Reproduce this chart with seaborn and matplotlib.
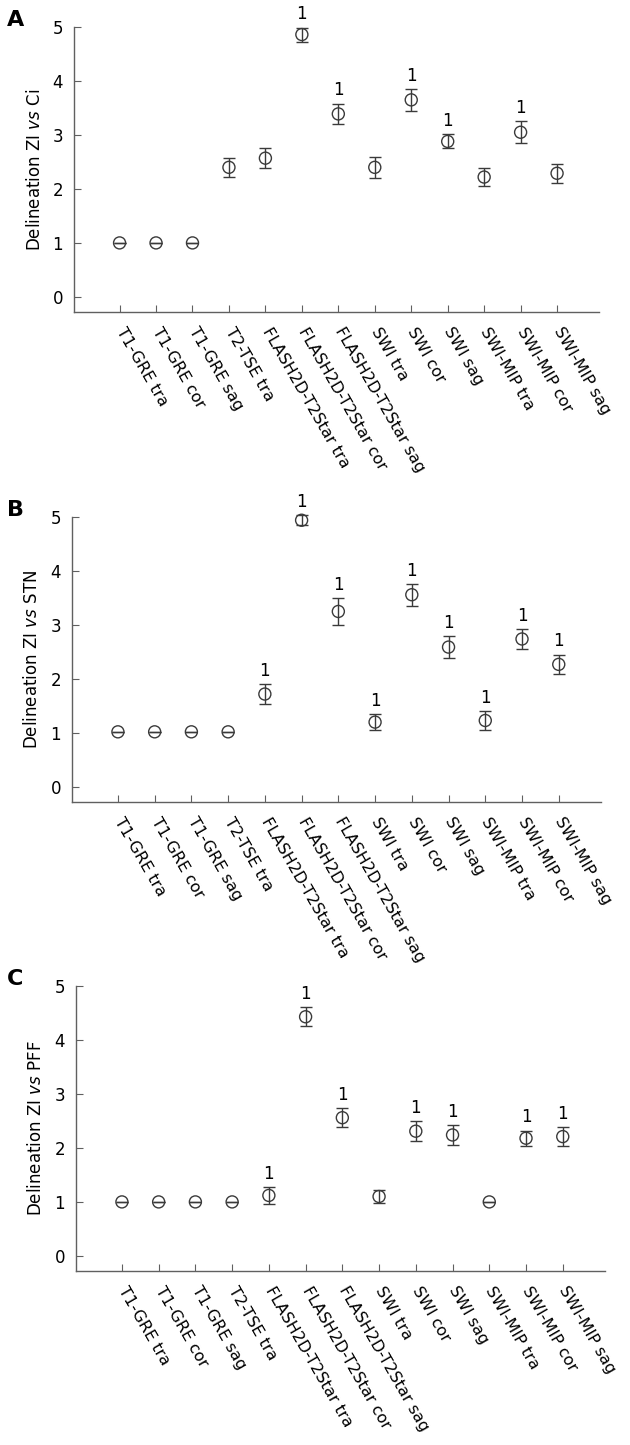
import matplotlib
matplotlib.use("Agg")
import matplotlib.pyplot as plt
import seaborn as sns
import numpy as np

# --- DATA ---
sequences = ["T1-GRE tra", "T1-GRE cor", "T1-GRE sag", "T2-TSE tra",
             "FLASH2D-T2Star tra", "FLASH2D-T2Star cor", "FLASH2D-T2Star sag",
             "SWI tra", "SWI cor", "SWI sag",
             "SWI-MIP tra", "SWI-MIP cor", "SWI-MIP sag"]

ci_mean = [1.0, 1.0, 1.0, 2.40, 2.57, 4.86, 3.39, 2.40, 3.65, 2.88, 2.22, 3.05, 2.29]
ci_err = [0, 0, 0, 0.18, 0.19, 0.13, 0.19, 0.20, 0.20, 0.13, 0.17, 0.20, 0.18]
ci_sig = [0, 0, 0, 0, 0, 1, 1, 0, 1, 1, 0, 1, 0]

stn_mean = [1.02, 1.02, 1.02, 1.02, 1.72, 4.94, 3.25, 1.20, 3.56, 2.59, 1.23, 2.74, 2.27]
stn_err = [0, 0, 0, 0, 0.19, 0.09, 0.25, 0.15, 0.20, 0.21, 0.18, 0.18, 0.18]
stn_sig = [0, 0, 0, 0, 1, 1, 1, 1, 1, 1, 1, 1, 1]

pff_mean = [1.0, 1.0, 1.0, 1.0, 1.12, 4.43, 2.56, 1.10, 2.31, 2.24, 1.0, 2.18, 2.21]
pff_err = [0, 0, 0, 0, 0.15, 0.18, 0.18, 0.12, 0.19, 0.19, 0, 0.14, 0.17]
pff_sig = [0, 0, 0, 0, 1, 1, 1, 0, 1, 1, 0, 1, 1]

panels = [
    ("A", "Ci", ci_mean, ci_err, ci_sig, (74, 599, 27, 312)),
    ("B", "STN", stn_mean, stn_err, stn_sig, (72, 601, 517, 802)),
    ("C", "PFF", pff_mean, pff_err, pff_sig, (76, 605, 986, 1271)),
]

W, H = 630, 1445
INK = "#3a3a3a"
AXIS = "#606060"

sns.set_theme(style="ticks")
plt.rcParams["font.family"] = ["DejaVu Sans"]
plt.rcParams["mathtext.fontset"] = "dejavusans"
plt.rcParams["text.color"] = "black"
plt.rcParams["axes.labelcolor"] = "black"
plt.rcParams["xtick.labelcolor"] = "black"
plt.rcParams["ytick.labelcolor"] = "black"

fig = plt.figure(figsize=(W / 100, H / 100), dpi=100)


def draw_panel(letter, target, means, errs, sig, box):
    left, right, top, bottom = box
    ax = fig.add_axes([left / W, 1 - bottom / H, (right - left) / W, (bottom - top) / H])
    x = np.arange(len(sequences))

    # error bars first, open circles on top
    eb = ax.errorbar(x, means, yerr=errs, fmt="none", ecolor=INK,
                     elinewidth=1, capsize=4, capthick=1, zorder=2)
    for part in eb.lines[1] + eb.lines[2]:
        part.set_clip_on(False)
    sns.scatterplot(x=x, y=means, ax=ax, marker="o", s=75,
                    facecolors="none", edgecolor=INK, linewidth=1, zorder=3,
                    clip_on=False)

    # significance marks
    for i, flag in enumerate(sig):
        if flag:
            ax.annotate("1", (x[i], means[i] + errs[i]), xytext=(0, 3),
                        textcoords="offset points", ha="center", va="bottom",
                        fontsize=12, color="black", annotation_clip=False)

    ax.set_xlim(-1.25, 13.15)
    ax.set_ylim(-0.28, 5.0)
    ax.set_yticks([0, 1, 2, 3, 4, 5])
    ax.set_xticks(x)
    ax.set_xticklabels(sequences, rotation=-60, ha="left", va="center",
                       rotation_mode="anchor", fontsize=11.5)
    ax.tick_params(axis="x", direction="in", length=5, width=0.8,
                   color=AXIS, pad=12)
    ax.tick_params(axis="y", direction="in", length=5, width=0.8,
                   color=AXIS, pad=8, labelsize=12)

    for side in ["top", "right"]:
        ax.spines[side].set_visible(False)
    for side in ["left", "bottom"]:
        ax.spines[side].set_color(AXIS)
        ax.spines[side].set_linewidth(1)

    ax.set_xlabel("")
    ax.set_ylabel(f"Delineation ZI $\\it{{vs}}$ {target}", fontsize=12)
    ax.yaxis.set_label_coords(-0.058, 0.5)

    fig.text(7 / W, 1 - (top - 7) / H, letter, fontsize=16, fontweight="bold",
             ha="left", va="center")
    return ax


for letter, target, means, errs, sig, box in panels:
    draw_panel(letter, target, means, errs, sig, box)

fig.savefig("out.png", dpi=100, facecolor="white")
